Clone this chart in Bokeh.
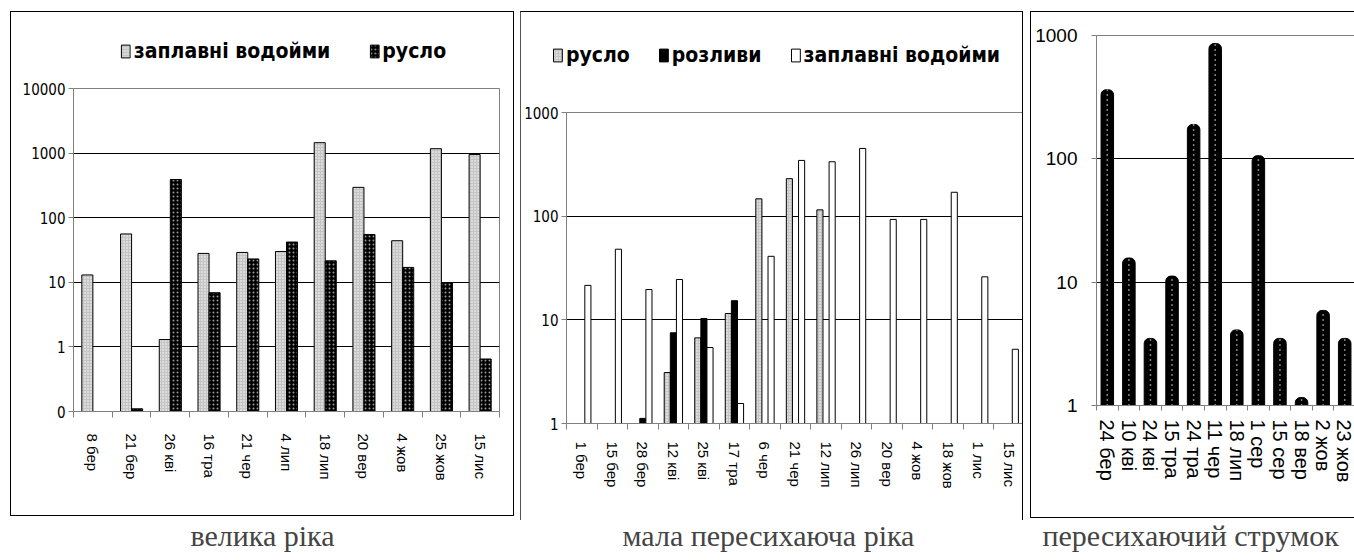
import numpy as np
from bokeh.plotting import figure
from bokeh.layouts import row, column
from bokeh.models import Legend, LegendItem, FixedTicker, Label
from bokeh.embed import file_html
from bokeh.resources import INLINE

nan = np.nan

# ---------------- data ----------------
# panel 1: велика ріка
big_dates = ["8 бер", "21 бер", "26 кві", "16 тра", "21 чер", "4 лип",
             "18 лип", "20 вер", "4 жов", "25 жов", "15 лис"]
big_floodplain = [13, 56, 1.3, 28, 29, 30, 1450, 295, 44, 1170, 950]
big_channel = [nan, 0.11, 390, 6.9, 23, 42, 21.5, 55, 17, 9.8, 0.65]
big_series = ["заплавні водойми", "русло"]
big_yticks = [0.1, 1, 10, 100, 1000, 10000]
big_ytick_labels = ["0", "1", "10", "100", "1000", "10000"]

# panel 2: мала пересихаюча ріка
small_dates = ["1 бер", "15 бер", "28 бер", "12 кві", "25 кві", "17 тра",
               "6 чер", "21 чер", "12 лип", "26 лип", "20 вер", "4 жов",
               "18 жов", "1 лис", "15 лис"]
small_channel = [nan, nan, nan, 3.1, 6.7, 11.5, 147, 230, 115,
                 nan, nan, nan, nan, nan, nan]
small_spill = [nan, nan, 1.12, 7.5, 10.3, 15.3, nan, nan, nan,
               nan, nan, nan, nan, nan, nan]
small_floodplain = [21.5, 48, 19.6, 24.5, 5.4, 1.56, 41, 345, 335,
                    450, 93, 93, 170, 26, 5.2]
small_series = ["русло", "розливи", "заплавні водойми"]
small_yticks = [1, 10, 100, 1000]
small_ytick_labels = ["1", "10", "100", "1000"]

# panel 3: пересихаючий струмок
stream_dates = ["24 бер", "10 кві", "24 кві", "15 тра", "24 тра", "11 чер",
                "18 лип", "1 сер", "15 сер", "18 вер", "2 жов", "23 жов"]
stream_values = [363, 15.7, 3.5, 11.2, 190, 860, 4.1, 106, 3.5, 1.16, 5.9, 3.5]
stream_yticks = [1, 10, 100, 1000]
stream_ytick_labels = ["1", "10", "100", "1000"]

captions = ["велика ріка", "мала пересихаюча ріка", "пересихаючий струмок"]

SANS = "Liberation Sans"
COND = "DejaVu Sans Condensed"
GRAY = "#808080"
BL = "1px solid black"

# bar styles (kept apart from the data)
LIGHT = dict(fill_color="#c4c4c4", line_color="black", hatch_pattern="dot",
             hatch_color="white", hatch_scale=3, hatch_weight=1)
DARK = dict(fill_color="black", line_color="black", hatch_pattern="dot",
            hatch_color="white", hatch_scale=4, hatch_weight=1, hatch_alpha=0.6)
SOLID = dict(fill_color="black", line_color="black")
HOLLOW = dict(fill_color="white", line_color="black")


def chart_fig(width, height, ymin, ymax, xend, borders, styles, margin):
    p = figure(width=width, height=height, y_axis_type="log",
               y_range=(ymin, ymax), x_range=(0, xend),
               toolbar_location=None, output_backend="svg",
               min_border_left=borders[0], min_border_right=borders[1],
               min_border_top=borders[2], min_border_bottom=borders[3])
    p.frame_align = False
    p.styles = styles
    p.margin = margin
    p.outline_line_color = GRAY
    p.xgrid.grid_line_color = None
    p.ygrid.grid_line_color = "black"
    p.ygrid.minor_grid_line_color = None
    for ax in (p.xaxis[0], p.yaxis[0]):
        ax.axis_line_color = GRAY
        ax.major_tick_line_color = GRAY
        ax.minor_tick_line_color = None
        ax.major_label_text_color = "black"
    return p


def set_axes(p, dates, yticks, ylabels, yfont, yfontsize, xfontsize,
             xstandoff, ystandoff, ytick_out):
    n = len(dates)
    centers = [i + 0.5 for i in range(n)]
    p.xaxis.ticker = FixedTicker(ticks=centers, minor_ticks=list(range(n + 1)))
    p.xaxis.major_label_overrides = {float(c): d for c, d in zip(centers, dates)}
    p.xaxis.major_tick_line_color = None
    p.xaxis.major_tick_out = 0
    p.xaxis.major_tick_in = 0
    p.xaxis.minor_tick_line_color = GRAY
    p.xaxis.minor_tick_out = 6
    p.xaxis.minor_tick_in = 0
    p.xaxis.major_label_orientation = "vertical"
    p.xaxis.major_label_text_font = SANS
    p.xaxis.major_label_text_font_size = xfontsize
    p.xaxis.major_label_standoff = xstandoff

    p.yaxis.ticker = FixedTicker(ticks=yticks, minor_ticks=[])
    p.yaxis.major_label_overrides = {float(t): l for t, l in zip(yticks, ylabels)}
    p.yaxis.major_tick_out = ytick_out
    p.yaxis.major_tick_in = 0
    p.yaxis.major_label_text_font = yfont
    p.yaxis.major_label_text_font_size = yfontsize
    p.yaxis.major_label_standoff = ystandoff
    return centers


def legend_fig(width, height, labels, styles_list, borders, styles, margin,
               spacing):
    f = figure(width=width, height=height, x_range=(0, 1), y_range=(0, 1),
               toolbar_location=None, output_backend="svg",
               min_border_left=borders[0], min_border_right=borders[1],
               min_border_top=borders[2], min_border_bottom=borders[3])
    f.frame_align = False
    f.styles = styles
    f.margin = margin
    f.axis.visible = False
    f.grid.grid_line_color = None
    f.outline_line_color = None
    items = []
    for lab, st in zip(labels, styles_list):
        # legend proxy: a single bar placed outside the visible range
        r = f.vbar(x=[5], top=[0.5], width=0.1, **st)
        items.append(LegendItem(label=lab, renderers=[r]))
    leg = Legend(items=items, orientation="horizontal", location="center",
                 label_text_font=COND, label_text_font_style="bold",
                 label_text_font_size="21px", label_text_color="black",
                 glyph_width=11, glyph_height=16,
                 label_standoff=3, spacing=spacing, padding=0, margin=0,
                 border_line_alpha=0, background_fill_alpha=0)
    f.add_layout(leg)
    return f


# ---------------- panel 1 ----------------
leg1 = legend_fig(504, 67, big_series, [LIGHT, DARK], (40, 0, 10, 0),
                  {"border-top": BL, "border-left": BL, "border-right": BL},
                  (11, 0, 0, 10), 38)
p1 = chart_fig(504, 438, 0.1, 10000, len(big_dates), (62, 16, 10, 105),
               {"border-bottom": BL, "border-left": BL, "border-right": BL},
               (0, 0, 0, 10))
c1 = set_axes(p1, big_dates, big_yticks, big_ytick_labels, COND,
              "15px", "15px", 16, 3, 5)
w1 = 0.285
p1.vbar(x=[c - w1 / 2 for c in c1], top=big_floodplain, bottom=0.1,
        width=w1, **LIGHT)
p1.vbar(x=[c + w1 / 2 for c in c1], top=big_channel, bottom=0.1,
        width=w1, **DARK)

# ---------------- panel 2 ----------------
leg2 = legend_fig(503, 89, small_series, [LIGHT, SOLID, HOLLOW], (7, 0, 0, 4),
                  {"border-top": BL, "border-left": "1px solid #555",
                   "border-right": BL},
                  (11, 0, 0, 6), 28)
p2 = chart_fig(503, 420, 1, 1000, len(small_dates), (42, 0, 12, 97),
               {"border-left": "1px solid #555", "border-right": BL},
               (0, 0, 0, 6))
c2 = set_axes(p2, small_dates, small_yticks, small_ytick_labels, COND,
              "15px", "15px", 12, 3, 5)
w2 = 0.2
p2.vbar(x=[c - w2 for c in c2], top=small_channel, bottom=1, width=w2, **LIGHT)
p2.vbar(x=c2, top=small_spill, bottom=1, width=w2, **SOLID)
p2.vbar(x=[c + w2 for c in c2], top=small_floodplain, bottom=1, width=w2,
        **HOLLOW)

# ---------------- panel 3 ----------------
p3 = chart_fig(324, 507, 1, 1000, len(stream_dates), (65, 0, 23, 114),
               {"border-top": BL, "border-left": BL, "border-bottom": BL},
               (11, 0, 0, 7))
c3 = set_axes(p3, stream_dates, stream_yticks, stream_ytick_labels, SANS,
              "19px", "20px", 9, 14, 5)
p3.xaxis.minor_tick_out = 5
w3 = 0.58
p3.vbar(x=c3, top=stream_values, bottom=1, width=w3, fill_color="black",
        line_color="black", border_radius=(5, 5, 0, 0))
p3.segment(x0=c3, y0=[1] * len(c3), x1=c3, y1=stream_values,
           line_color="white", line_dash="1 4", line_width=1.5)

# ---------------- captions ----------------
cap = figure(width=1354, height=38, x_range=(0, 1), y_range=(0, 1),
             toolbar_location=None, output_backend="svg", min_border=0)
cap.axis.visible = False
cap.grid.grid_line_color = None
cap.outline_line_color = None
cap_font = dict(text_font="Liberation Serif", text_font_size="30px",
                x_units="screen", y_units="screen", y=7)
cap.add_layout(Label(x=262, text=captions[0], text_align="center", **cap_font))
cap.add_layout(Label(x=768, text=captions[1], text_align="center", **cap_font))
cap.add_layout(Label(x=1042, text=captions[2], text_align="left", **cap_font))

layout = column(row(column(leg1, p1, spacing=0), column(leg2, p2, spacing=0),
                    p3, spacing=0),
                cap, spacing=0)

open("out.html", "w").write(file_html(layout, INLINE))
